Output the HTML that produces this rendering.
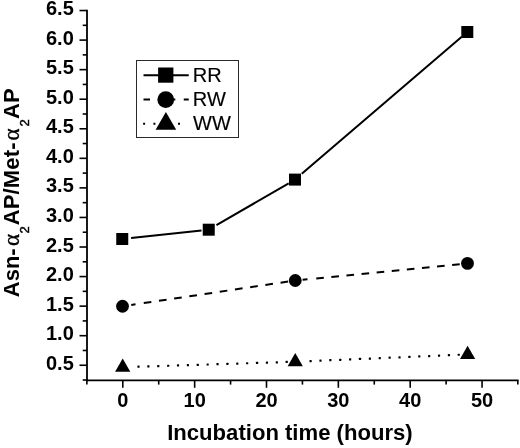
<!DOCTYPE html>
<html lang="en"><head><meta charset="utf-8"><title>Incubation time chart</title>
<style>html,body{margin:0;padding:0;background:#fff;}body{width:520px;height:448px;overflow:hidden;}svg{display:block;}.b{font-family:"Liberation Sans",Arial,sans-serif;font-weight:bold;fill:#000;}.r{font-family:"Liberation Sans",Arial,sans-serif;font-weight:normal;fill:#000;stroke:#000;stroke-width:0.15px;}.g{font-family:"Liberation Serif","DejaVu Serif",serif;font-weight:normal;stroke:#000;stroke-width:0.35px;}</style></head><body>
<svg width="520" height="448" viewBox="0 0 520 448">
<rect x="0" y="0" width="520" height="448" fill="#fff"/>
<g stroke="#000" stroke-width="1.8" fill="none" stroke-linecap="butt">
<path d="M87.0 9.8 V381.3"/>
<path d="M86.1 380.3 H518.6"/>
</g>
<g stroke="#000" stroke-width="1.6" fill="none">
<path d="M79.5 365.25 H87.0"/>
<path d="M79.5 335.69 H87.0"/>
<path d="M79.5 306.13 H87.0"/>
<path d="M79.5 276.57 H87.0"/>
<path d="M79.5 247.01 H87.0"/>
<path d="M79.5 217.45 H87.0"/>
<path d="M79.5 187.89 H87.0"/>
<path d="M79.5 158.33 H87.0"/>
<path d="M79.5 128.77 H87.0"/>
<path d="M79.5 99.21 H87.0"/>
<path d="M79.5 69.65 H87.0"/>
<path d="M79.5 40.09 H87.0"/>
<path d="M79.5 10.53 H87.0"/>
<path d="M82.7 380.03 H87.0"/>
<path d="M82.7 350.47 H87.0"/>
<path d="M82.7 320.91 H87.0"/>
<path d="M82.7 291.35 H87.0"/>
<path d="M82.7 261.79 H87.0"/>
<path d="M82.7 232.23 H87.0"/>
<path d="M82.7 202.67 H87.0"/>
<path d="M82.7 173.11 H87.0"/>
<path d="M82.7 143.55 H87.0"/>
<path d="M82.7 113.99 H87.0"/>
<path d="M82.7 84.43 H87.0"/>
<path d="M82.7 54.87 H87.0"/>
<path d="M82.7 25.31 H87.0"/>
<path d="M122.80 380.3 V387.8"/>
<path d="M194.65 380.3 V387.8"/>
<path d="M266.50 380.3 V387.8"/>
<path d="M338.35 380.3 V387.8"/>
<path d="M410.20 380.3 V387.8"/>
<path d="M482.05 380.3 V387.8"/>
<path d="M86.88 380.3 V384.6"/>
<path d="M158.72 380.3 V384.6"/>
<path d="M230.57 380.3 V384.6"/>
<path d="M302.43 380.3 V384.6"/>
<path d="M374.27 380.3 V384.6"/>
<path d="M446.12 380.3 V384.6"/>
<path d="M517.80 380.3 V384.6"/>
</g>
<g class="b t" font-size="20" text-anchor="end">
<text x="73.8" y="369.85">0.5</text>
<text x="73.8" y="340.29">1.0</text>
<text x="73.8" y="310.73">1.5</text>
<text x="73.8" y="281.17">2.0</text>
<text x="73.8" y="251.61">2.5</text>
<text x="73.8" y="222.05">3.0</text>
<text x="73.8" y="192.49">3.5</text>
<text x="73.8" y="162.93">4.0</text>
<text x="73.8" y="133.37">4.5</text>
<text x="73.8" y="103.81">5.0</text>
<text x="73.8" y="74.25">5.5</text>
<text x="73.8" y="44.69">6.0</text>
<text x="73.8" y="15.13">6.5</text>
</g>
<g class="b t" font-size="20" text-anchor="middle">
<text x="122.80" y="407.3">0</text>
<text x="194.65" y="407.3">10</text>
<text x="266.50" y="407.3">20</text>
<text x="338.35" y="407.3">30</text>
<text x="410.20" y="407.3">40</text>
<text x="482.05" y="407.3">50</text>
</g>
<text class="b" font-size="22.1" x="167.2" y="440.3">Incubation time (hours)</text>
<text class="b" font-size="22" transform="translate(19.4 297.20) rotate(-90)"><tspan x="0" y="0">Asn-</tspan><tspan class="g" font-size="23" x="51.3" y="0">α</tspan><tspan class="r" style="stroke-width:0.45px" font-size="13" x="63.7" y="9.9">2</tspan><tspan x="72" y="0" letter-spacing="0.13">AP/Met-</tspan><tspan class="g" font-size="23" x="156.7" y="0">α</tspan><tspan class="r" style="stroke-width:0.45px" font-size="13" x="170.6" y="9.9">2</tspan><tspan x="178.2" y="0">AP</tspan></text>
<g stroke="#000" stroke-width="2" fill="none">
<path d="M131.10 238.05 L201.49 230.48 M216.45 225.23 L288.69 183.27 M301.76 173.81 L461.76 36.75"/>
<path d="M131.25 304.95 L135.50 304.31 M143.75 303.08 L151.35 301.95 M158.95 300.82 L166.55 299.68 M174.15 298.55 L181.75 297.42 M189.35 296.29 L196.95 295.15 M204.55 294.02 L212.15 292.89 M219.75 291.75 L227.35 290.62 M234.95 289.49 L242.55 288.36 M250.15 287.22 L257.75 286.09 M265.35 284.96 L272.95 283.82 M280.55 282.69 L288.15 281.56 M302.60 279.77 L307.50 279.28 M316.25 278.42 L323.85 277.66 M331.35 276.92 L338.95 276.16 M346.45 275.42 L354.05 274.66 M361.55 273.92 L369.15 273.16 M376.65 272.42 L384.25 271.66 M391.75 270.92 L399.35 270.17 M406.85 269.42 L414.45 268.67 M421.95 267.92 L429.55 267.17 M437.05 266.42 L444.65 265.67 M452.15 264.92 L459.75 264.17"/>
</g>
<g fill="#000" stroke="none">
<rect x="137.40" y="365.60" width="2.2" height="2.2" rx="0.5"/>
<rect x="147.28" y="365.28" width="2.2" height="2.2" rx="0.5"/>
<rect x="157.16" y="364.97" width="2.2" height="2.2" rx="0.5"/>
<rect x="167.04" y="364.65" width="2.2" height="2.2" rx="0.5"/>
<rect x="176.92" y="364.34" width="2.2" height="2.2" rx="0.5"/>
<rect x="186.80" y="364.02" width="2.2" height="2.2" rx="0.5"/>
<rect x="196.68" y="363.71" width="2.2" height="2.2" rx="0.5"/>
<rect x="206.56" y="363.39" width="2.2" height="2.2" rx="0.5"/>
<rect x="216.44" y="363.08" width="2.2" height="2.2" rx="0.5"/>
<rect x="226.32" y="362.76" width="2.2" height="2.2" rx="0.5"/>
<rect x="236.20" y="362.45" width="2.2" height="2.2" rx="0.5"/>
<rect x="246.08" y="362.13" width="2.2" height="2.2" rx="0.5"/>
<rect x="255.96" y="361.82" width="2.2" height="2.2" rx="0.5"/>
<rect x="265.84" y="361.50" width="2.2" height="2.2" rx="0.5"/>
<rect x="275.72" y="361.19" width="2.2" height="2.2" rx="0.5"/>
<rect x="285.60" y="360.87" width="2.2" height="2.2" rx="0.5"/>
<rect x="309.50" y="359.95" width="2.2" height="2.2" rx="0.5"/>
<rect x="319.38" y="359.53" width="2.2" height="2.2" rx="0.5"/>
<rect x="329.26" y="359.11" width="2.2" height="2.2" rx="0.5"/>
<rect x="339.14" y="358.69" width="2.2" height="2.2" rx="0.5"/>
<rect x="349.02" y="358.28" width="2.2" height="2.2" rx="0.5"/>
<rect x="358.90" y="357.86" width="2.2" height="2.2" rx="0.5"/>
<rect x="368.78" y="357.44" width="2.2" height="2.2" rx="0.5"/>
<rect x="378.66" y="357.02" width="2.2" height="2.2" rx="0.5"/>
<rect x="388.54" y="356.60" width="2.2" height="2.2" rx="0.5"/>
<rect x="398.42" y="356.18" width="2.2" height="2.2" rx="0.5"/>
<rect x="408.30" y="355.77" width="2.2" height="2.2" rx="0.5"/>
<rect x="418.18" y="355.35" width="2.2" height="2.2" rx="0.5"/>
<rect x="428.06" y="354.93" width="2.2" height="2.2" rx="0.5"/>
<rect x="437.94" y="354.51" width="2.2" height="2.2" rx="0.5"/>
<rect x="447.82" y="354.09" width="2.2" height="2.2" rx="0.5"/>
<rect x="457.70" y="353.67" width="2.2" height="2.2" rx="0.5"/>
<rect x="116.25" y="233.00" width="12" height="12"/>
<rect x="202.75" y="223.70" width="12" height="12"/>
<rect x="289.00" y="173.60" width="12" height="12"/>
<rect x="461.30" y="26.00" width="12" height="12"/>
<circle cx="122.50" cy="306.25" r="6.4"/>
<circle cx="295.25" cy="280.50" r="6.4"/>
<circle cx="467.50" cy="263.40" r="6.4"/>
<path d="M115.10 371.79 H130.30 L122.70 358.62 Z"/>
<path d="M287.65 366.29 H302.85 L295.25 353.12 Z"/>
<path d="M460.00 358.99 H475.20 L467.60 345.82 Z"/>
</g>
<rect x="136.5" y="60.5" width="102" height="77" fill="#fff" stroke="#2a2a2a" stroke-width="1"/>
<g stroke="#000" stroke-width="2" fill="none">
<path d="M143.5 75.25 H188.75"/>
<path d="M143.5 99.6 H150 M172 99.6 H175.3 M183.75 99.6 H188.75"/>
</g>
<g fill="#000">
<rect x="158.1" y="67.5" width="15.3" height="15.2"/>
<circle cx="165.75" cy="99.6" r="8.4"/>
<path d="M155.60 129.75 H176.20 L165.90 111.91 Z"/>
<rect x="143.10" y="122.75" width="2" height="2"/>
<rect x="153.40" y="122.75" width="2" height="2"/>
<rect x="178.00" y="122.75" width="2" height="2"/>
</g>
<g class="r" font-size="20">
<text x="192.8" y="81.8">RR</text>
<text x="192.8" y="105.7">RW</text>
<text x="193" y="129.6">WW</text>
</g>
</svg></body></html>
